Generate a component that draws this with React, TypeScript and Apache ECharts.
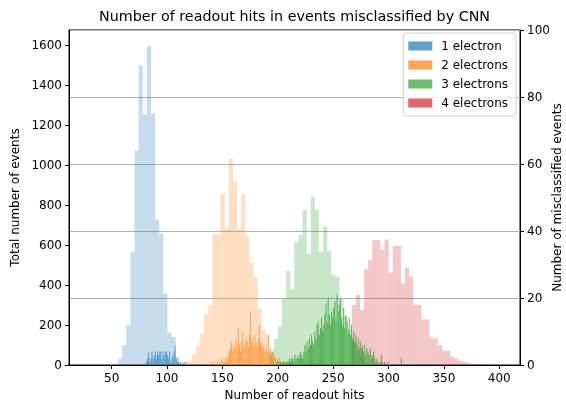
import React, { useEffect, useRef } from "react";
import * as echarts from "echarts";

const FONT = "DejaVu Sans";
const COLORS = ["#1f77b4", "#ff7f0e", "#2ca02c", "#d62728"];
const CLASS_NAMES = ["1 electron", "2 electrons", "3 electrons", "4 electrons"];

// Total events: shared bins of width 3.7 starting at 30 hits
const BIN_START = 30;
const BIN_WIDTH = 3.7;
const blueTotalFirstBin = 7;
const blueTotal = [33, 100, 200, 567, 1072, 1500, 1253, 1595, 1258, 725, 655, 358, 162, 140, 40, 10];
const orangeTotalFirstBin = 22;
const orangeTotal = [5, 12, 20, 50, 95, 158, 255, 300, 653, 653, 855, 683, 1030, 917, 683, 855, 645, 510, 440, 283, 175, 150, 67, 30, 10];
const greenTotalFirstBin = 44;
const greenTotal = [67, 130, 192, 330, 470, 380, 617, 650, 775, 555, 842, 775, 567, 692, 572, 450, 442, 330, 242, 180, 120, 70, 40, 15];
const redTotalFirstBin = 64;
const redTotal = [300, 350, 275, 478, 525, 625, 625, 575, 628, 462, 595, 595, 408, 488, 442, 300, 300, 228, 228, 133, 133, 100, 72, 72, 42, 33, 22, 15, 10, 6, 4, 2, 1];

// Misclassified events: counts per integer number of hits
const blueMisFirst = 81;
const blueMisWidth = 0.8;
const blueMis = [1, 2, 4, 1, 2, 4, 2, 3, 4, 2, 4, 3, 4, 4, 2, 4, 3, 4, 4, 3, 2, 4, 1, 2, 3, 4, 6, 2, 1, 1, 0, 1, 0, 0, 1, 0, 1];
const orangeMisFirst = 140;
const orangeMisWidth = 0.8;
const orangeMis = [1, 0, 1, 0, 0, 1, 0, 1, 0, 2, 1, 1, 2, 1, 3, 2, 4, 5, 7, 4, 6, 5, 8, 5, 11, 6, 4, 7, 10, 5, 6, 8, 7, 5, 9, 16, 7, 8, 6, 9, 7, 5, 8, 12, 6, 7, 5, 6, 4, 5, 4, 9, 3, 5, 3, 4, 2, 3, 1, 2, 1, 2, 1, 0, 1, 0, 1];
const greenMisFirst = 200;
const greenMisWidth = 1.0;
const greenMis = [1, 0, 1, 0, 1, 1, 0, 1, 1, 1, 2, 1, 2, 2, 1, 3, 2, 2, 3, 2, 4, 3, 2, 4, 6, 4, 7, 5, 8, 6, 9, 7, 6, 10, 8, 12, 13, 9, 11, 14, 10, 12, 15, 18, 13, 20, 15, 12, 16, 14, 17, 19, 13, 21, 16, 18, 20, 14, 12, 17, 11, 15, 13, 10, 14, 9, 12, 8, 10, 7, 9, 6, 8, 5, 7, 5, 6, 4, 6, 3, 5, 4, 3, 5, 2, 3, 4, 2, 1, 2, 1, 0, 1, 3, 1, 0, 1, 0, 0, 1, 0, 0, 0, 0, 0, 0, 0, 0, 0, 0, 0, 2];
const redMisFirst = 300;
const redMisWidth = 1.0;
const redMis: number[] = [];

const X_TICKS = [50, 100, 150, 200, 250, 300, 350, 400];
const LEFT_TICKS = [0, 200, 400, 600, 800, 1000, 1200, 1400, 1600];

function totalBins(first: number, counts: number[]) {
  return counts.map((c, i) => [
    BIN_START + (first + i) * BIN_WIDTH,
    BIN_START + (first + i + 1) * BIN_WIDTH,
    c,
  ]);
}
function misBins(first: number, counts: number[], w: number) {
  return counts.map((c, i) => [first + i, first + i + w, c]);
}

function histSeries(name: string, data: number[][], color: string, opacity: number, yAxisIndex: number) {
  return {
    type: "custom",
    name,
    yAxisIndex,
    data,
    encode: { x: [0, 1], y: 2 },
    itemStyle: { color, opacity },
    renderItem: (params: any, api: any) => {
      const x0 = api.value(0);
      const x1 = api.value(1);
      const y = api.value(2);
      if (!y) return null;
      const p0 = api.coord([x0, y]);
      const p1 = api.coord([x1, 0]);
      return {
        type: "rect",
        shape: { x: p0[0], y: p0[1], width: p1[0] - p0[0], height: p1[1] - p0[1] },
        style: { fill: color, opacity },
      };
    },
  };
}

export default function App() {
  const ref = useRef<HTMLDivElement>(null);
  useEffect(() => {
    if (!ref.current) return;
    const chart = echarts.init(ref.current, undefined, { renderer: "svg" });
    const totals = [
      totalBins(blueTotalFirstBin, blueTotal),
      totalBins(orangeTotalFirstBin, orangeTotal),
      totalBins(greenTotalFirstBin, greenTotal),
      totalBins(redTotalFirstBin, redTotal),
    ];
    const mis = [
      misBins(blueMisFirst, blueMis, blueMisWidth),
      misBins(orangeMisFirst, orangeMis, orangeMisWidth),
      misBins(greenMisFirst, greenMis, greenMisWidth),
      misBins(redMisFirst, redMis, redMisWidth),
    ];
    const series: any[] = [];
    totals.forEach((d, i) => series.push(histSeries(CLASS_NAMES[i] + " (total)", d, COLORS[i], 0.26, 0)));
    mis.forEach((d, i) => series.push(histSeries(CLASS_NAMES[i], d, COLORS[i], 0.72, 1)));

    const axisText = { color: "#000", fontFamily: FONT, fontSize: 12 };
    const plain = (v: number) => String(v);
    chart.setOption({
      animation: false,
      textStyle: { fontFamily: FONT },
      grid: {
        left: 69,
        right: 46,
        top: 30,
        bottom: 42,
        containLabel: false,
        outerBoundsMode: "none",
        show: true,
        borderColor: "#000",
        borderWidth: 1,
        backgroundColor: "transparent",
      },
      graphic: [
        {
          type: "text",
          x: 294.5,
          y: 16,
          style: {
            text: "Number of readout hits in events misclassified by CNN",
            font: `14.3px "${FONT}"`,
            fill: "#000",
            textAlign: "center",
            textVerticalAlign: "middle",
          },
        },
        {
          type: "text",
          x: 557,
          y: 197.5,
          rotation: Math.PI / 2,
          style: {
            text: "Number of misclassified events",
            font: `12px "${FONT}"`,
            fill: "#000",
            textAlign: "center",
            textVerticalAlign: "middle",
          },
        },
      ],
      legend: {
        data: CLASS_NAMES.map((n, i) => ({ name: n, itemStyle: { color: COLORS[i], opacity: 0.7 } })),
        orient: "vertical",
        right: 50,
        top: 33,
        icon: "rect",
        itemWidth: 24,
        itemHeight: 9,
        itemGap: 5,
        padding: [6, 8, 6, 5],
        backgroundColor: "rgba(255,255,255,0.8)",
        borderColor: "#d0d0d0",
        borderWidth: 1,
        borderRadius: 3,
        textStyle: { color: "#000", fontFamily: FONT, fontSize: 12, padding: [0, 0, 0, 4], lineHeight: 14 },
        selectedMode: false,
      },
      xAxis: {
        type: "value",
        min: 11.5,
        max: 418.7,
        name: "Number of readout hits",
        nameLocation: "middle",
        nameGap: 24,
        nameTextStyle: axisText,
        axisLine: { show: true, lineStyle: { color: "#000", width: 1 } },
        axisTick: { show: true, length: 4, lineStyle: { color: "#000" }, customValues: X_TICKS },
        axisLabel: { ...axisText, margin: 7, customValues: X_TICKS, formatter: plain },
        splitLine: { show: false },
      },
      yAxis: [
        {
          type: "value",
          min: 0,
          max: 1676,
          position: "left",
          name: "Total number of events",
          nameLocation: "middle",
          nameGap: 46,
          nameRotate: 90,
          nameTextStyle: axisText,
          axisLine: { show: true, lineStyle: { color: "#000", width: 1 } },
          axisTick: { show: true, length: 4, lineStyle: { color: "#000" }, customValues: LEFT_TICKS },
          axisLabel: { ...axisText, margin: 7, customValues: LEFT_TICKS, formatter: plain },
          splitLine: { show: false },
        },
        {
          type: "value",
          min: 0,
          max: 100,
          interval: 20,
          position: "right",
          axisLine: { show: true, lineStyle: { color: "#000", width: 1 } },
          axisTick: { show: true, length: 4, lineStyle: { color: "#000" } },
          axisLabel: { ...axisText, margin: 7, formatter: plain },
          splitLine: { show: true, lineStyle: { color: "#b0b0b0", width: 1 } },
        },
      ],
      series,
    });
    return () => chart.dispose();
  }, []);
  return <div ref={ref} style={{ position: "fixed", left: 0, top: 0, width: 566, height: 407 }} />;
}
